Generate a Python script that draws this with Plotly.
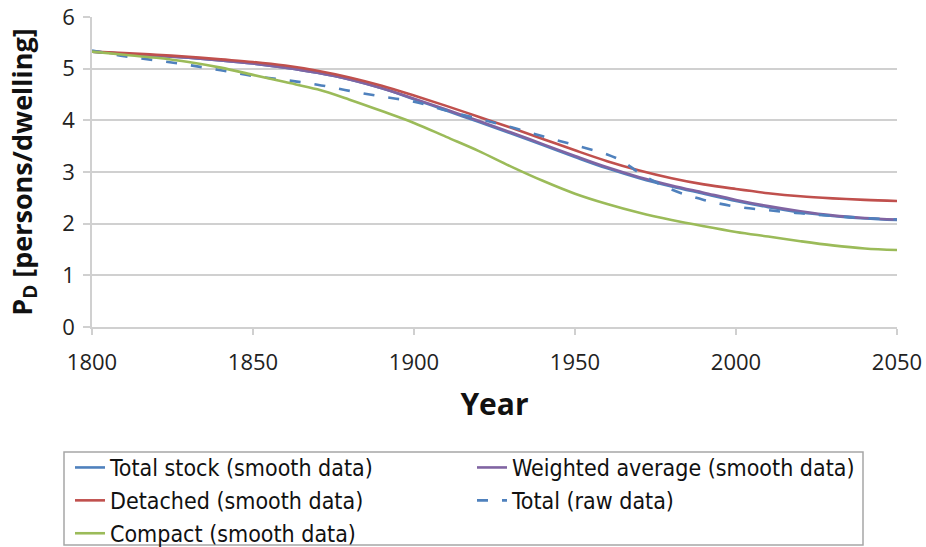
import plotly.graph_objects as go

# ---------------- data ----------------
years = [1800, 1810, 1820, 1830, 1840, 1850, 1860, 1870, 1880, 1890, 1900,
         1910, 1920, 1930, 1940, 1950, 1960, 1970, 1980, 1990, 2000,
         2010, 2020, 2030, 2040, 2050]

total_stock_smooth = [5.33, 5.29, 5.25, 5.21, 5.16, 5.10, 5.02, 4.92, 4.79, 4.62, 4.41,
                      4.19, 3.97, 3.75, 3.52, 3.29, 3.07, 2.88, 2.72, 2.58, 2.44,
                      2.32, 2.22, 2.15, 2.10, 2.07]
weighted_avg_smooth = [5.33, 5.29, 5.25, 5.21, 5.16, 5.10, 5.02, 4.92, 4.79, 4.62, 4.42,
                       4.21, 3.99, 3.77, 3.54, 3.31, 3.09, 2.90, 2.74, 2.60, 2.46,
                       2.34, 2.24, 2.16, 2.11, 2.08]
detached_smooth = [5.33, 5.30, 5.27, 5.23, 5.18, 5.13, 5.06, 4.96, 4.83, 4.67, 4.48,
                   4.28, 4.07, 3.86, 3.64, 3.42, 3.21, 3.03, 2.88, 2.76, 2.67,
                   2.59, 2.53, 2.49, 2.46, 2.44]
compact_smooth = [5.33, 5.27, 5.21, 5.13, 5.02, 4.88, 4.74, 4.60, 4.40, 4.18, 3.95,
                  3.68, 3.41, 3.11, 2.83, 2.58, 2.38, 2.21, 2.07, 1.95, 1.84,
                  1.75, 1.66, 1.58, 1.52, 1.49]

raw_years = [1800, 1810, 1820, 1830, 1840, 1850, 1860, 1870, 1880, 1890, 1900,
             1910, 1920, 1930, 1940, 1950, 1960, 1965, 1970, 1980, 1990, 2000,
             2010, 2020, 2030, 2040, 2050]
total_raw = [5.35, 5.24, 5.16, 5.07, 4.97, 4.86, 4.78, 4.69, 4.57, 4.46, 4.36,
             4.19, 4.03, 3.87, 3.69, 3.52, 3.34, 3.20, 2.98, 2.66, 2.46, 2.33,
             2.26, 2.20, 2.15, 2.11, 2.08]

x_ticks = [1800, 1850, 1900, 1950, 2000, 2050]
y_ticks = [0, 1, 2, 3, 4, 5, 6]

# ---------------- figure ----------------
W, H = 926, 547
ML, MR, MT, MB = 92, 29, 17, 220
PW, PH = W - ML - MR, H - MT - MB


def px_x(p):
    return (p - ML) / PW


def px_y(p):
    return (MT + PH - p) / PH


BLUE = "#4F81BD"
RED = "#C0504D"
GREEN = "#9BBB59"
PURPLE = "#8064A2"
LW = 2.6

fig = go.Figure()
fig.add_trace(go.Scatter(x=years, y=total_stock_smooth, mode="lines",
                         name="Total stock (smooth data)", line=dict(color=BLUE, width=LW, shape="spline"),
                         legend="legend", legendgroup="a"))
fig.add_trace(go.Scatter(x=years, y=weighted_avg_smooth, mode="lines",
                         name="Weighted average (smooth data)", line=dict(color=PURPLE, width=LW, shape="spline"),
                         legend="legend2", legendgroup="d"))
fig.add_trace(go.Scatter(x=years, y=detached_smooth, mode="lines",
                         name="Detached (smooth data)", line=dict(color=RED, width=LW, shape="spline"),
                         legend="legend", legendgroup="b"))
fig.add_trace(go.Scatter(x=raw_years, y=total_raw, mode="lines",
                         name="Total (raw data)", line=dict(color=BLUE, width=LW, dash="11px,14px", shape="spline"),
                         legend="legend2", legendgroup="e"))
fig.add_trace(go.Scatter(x=years, y=compact_smooth, mode="lines",
                         name="Compact (smooth data)", line=dict(color=GREEN, width=LW, shape="spline"),
                         legend="legend", legendgroup="c"))

GRID = "#D0D0D0"
TICKFONT = dict(family="Open Sans, sans-serif", size=22, color="#222222")
LEGFONT = dict(family="DejaVu Sans Condensed, Open Sans, sans-serif", size=23, color="#111111")

leg_common = dict(orientation="v", bgcolor="rgba(0,0,0,0)", borderwidth=0,
                  font=LEGFONT, tracegroupgap=0, yanchor="top", xanchor="left",
                  itemwidth=30, traceorder="grouped")

fig.update_layout(
    width=W, height=H,
    margin=dict(l=ML, r=MR, t=MT, b=MB, autoexpand=False),
    paper_bgcolor="white", plot_bgcolor="white",
    xaxis=dict(range=[1800, 2050], tickvals=x_ticks, ticktext=[str(v) for v in x_ticks],
               showgrid=False, zeroline=False, showline=True, linecolor=GRID, linewidth=1.5,
               ticks="outside", ticklen=6, tickcolor=GRID, tickwidth=1.5,
               tickfont=TICKFONT, ticklabelstandoff=9,
               title=dict(text="<b>Year</b>", font=dict(family="Open Sans, sans-serif", size=30, color="#111111"),
                          standoff=19)),
    yaxis=dict(range=[0, 6], tickvals=y_ticks, showgrid=True, gridcolor=GRID, gridwidth=1.5,
               zeroline=False, showline=True, linecolor=GRID, linewidth=1.5,
               ticks="outside", ticklen=7, tickcolor=GRID, tickwidth=1.5,
               tickfont=TICKFONT, ticklabelstandoff=4,
               title=dict(text="<b>P<sub>D</sub> [persons/dwelling]</b>",
                          font=dict(family="Open Sans, sans-serif", size=27, color="#111111"),
                          standoff=22)),
    legend=dict(x=px_x(70), y=px_y(446), **leg_common),
    legend2=dict(x=px_x(472), y=px_y(446), **leg_common),
    shapes=[dict(type="rect", xref="paper", yref="paper",
                 x0=px_x(64), x1=px_x(863), y0=px_y(452), y1=px_y(545),
                 line=dict(color="#A6A6A6", width=1.5), fillcolor="rgba(0,0,0,0)", layer="below")],
)

fig.write_html("out.html", config={"displayModeBar": False},
               post_script="document.body.style.margin='0px';")
